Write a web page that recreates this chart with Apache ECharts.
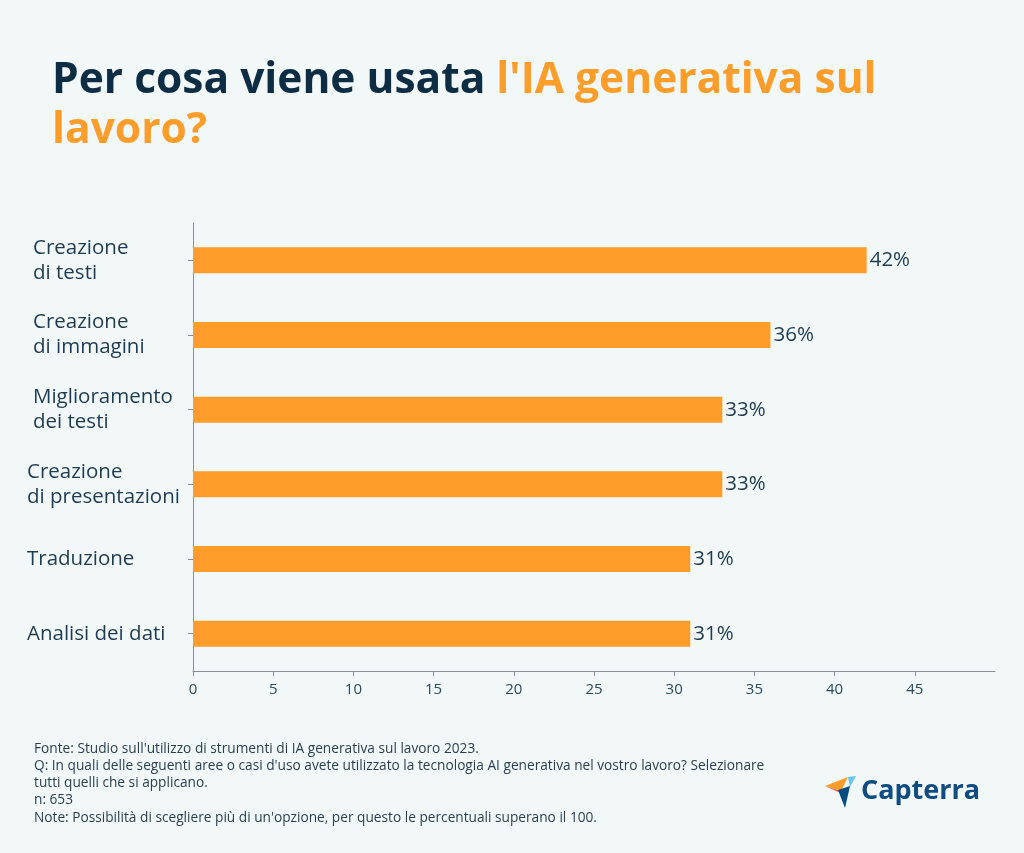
<!DOCTYPE html>
<html>
<head>
<meta charset="utf-8">
<script src="https://cdn.jsdelivr.net/npm/echarts@6/dist/echarts.min.js"></script>
<style>
html,body{margin:0;padding:0;background:#f2f7f8;}
#chart{width:1024px;height:853px;}
</style>
</head>
<body>
<div id="chart"></div>
<script>
const categories = [
  "Creazione\ndi testi",
  "Creazione\ndi immagini",
  "Miglioramento\ndei testi",
  "Creazione\ndi presentazioni",
  "Traduzione",
  "Analisi dei dati"
];
const values = [42, 36, 33, 33, 31, 31];
const labelIndent = [6, 6, 6, 0, 0, 0];
const footerLines = [
  "Fonte: Studio sull'utilizzo di strumenti di IA generativa sul lavoro 2023.",
  "Q: In quali delle seguenti aree o casi d'uso avete utilizzato la tecnologia AI generativa nel vostro lavoro? Selezionare",
  "tutti quelli che si applicano.",
  "n: 653",
  "Note: Possibilità di scegliere più di un'opzione, per questo le percentuali superano il 100."
];

const dark = '#0d2d44';
const orange = '#ff9d2b';
const textCol = '#1d3b52';
const font = '"Open Sans", "Noto Sans", sans-serif';

const chart = echarts.init(document.getElementById('chart'));
chart.setOption({
  backgroundColor: '#f2f7f8',
  animation: false,
  title: {
    left: 47, top: 51,
    text: "{a|Per cosa viene usata }{b|l'IA generativa sul}\n{b|lavoro?}",
    textStyle: {
      rich: {
        a: {fontFamily: font, fontWeight: 'bold', fontSize: 42.5, color: dark, lineHeight: 50},
        b: {fontFamily: font, fontWeight: 'bold', fontSize: 42.5, color: orange, lineHeight: 50}
      }
    }
  },
  grid: {left: 193, right: 29, top: 223, bottom: 182, containLabel: false, outerBoundsMode: 'none'},
  xAxis: {
    type: 'value', min: 0, max: 50, interval: 5,
    axisLine: {show: true, lineStyle: {color: '#8a8f94'}},
    axisTick: {show: true, length: 5, lineStyle: {color: '#8a8f94'}},
    splitLine: {show: false},
    axisLabel: {showMaxLabel: false, color: '#2a4a5e', fontSize: 15, fontFamily: font, margin: 11}
  },
  yAxis: {
    type: 'category', inverse: true,
    data: categories.map((c, i) => ({value: c, textStyle: {align: 'left', padding: [0, 0, 0, labelIndent[i]]}})),
    axisLine: {show: true, lineStyle: {color: '#8a8f94'}},
    axisTick: {show: true, alignWithLabel: true, length: 5, lineStyle: {color: '#8a8f94'}},
    axisLabel: {align: 'left', margin: 166, color: textCol, fontSize: 20.5, lineHeight: 25, fontFamily: font}
  },
  series: [{
    type: 'bar', data: values, barWidth: 26,
    itemStyle: {color: orange},
    label: {show: true, position: 'right', distance: 3, formatter: '{c}%', color: textCol, fontSize: 20.5, fontFamily: font}
  }],
  graphic: [
    {type: 'text', left: 34, top: 740, style: {text: footerLines.join('\n'), fontSize: 13.7, lineHeight: 17.3, fill: '#2a3f50', fontFamily: font}},
    {type: 'polygon', shape: {points: [[825,786],[848,777],[841,791]]}, style: {fill: '#ff9d28'}},
    {type: 'polygon', shape: {points: [[825,786],[841,791],[838,792]]}, style: {fill: '#f0615a'}},
    {type: 'polygon', shape: {points: [[848,777],[856,776],[850,787]]}, style: {fill: '#68c5ed'}},
    {type: 'polygon', shape: {points: [[838,790],[850,786],[845,808]]}, style: {fill: '#044d80'}},
    {type: 'text', left: 861, top: 778, style: {text: 'Capterra', fontSize: 27, fontWeight: 'bold', fill: '#0f4c81', fontFamily: font}}
  ]
});
</script>
</body>
</html>
